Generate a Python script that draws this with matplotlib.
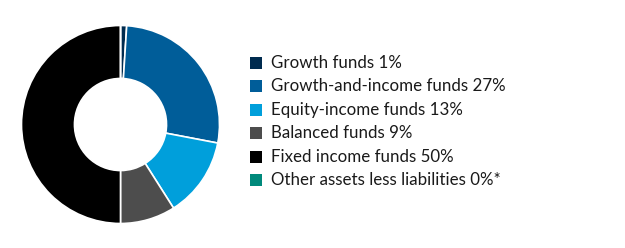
import matplotlib
matplotlib.use("Agg")
import matplotlib.pyplot as plt
from matplotlib.patches import Rectangle

# --- データ ---
labels = ["Growth funds 1%", "Growth-and-income funds 27%", "Equity-income funds 13%",
          "Balanced funds 9%", "Fixed income funds 50%", "Other assets less liabilities 0%*"]
values = [1, 27, 13, 9, 50, 0]
colors = ["#002b4f", "#005d99", "#009fdb", "#4d4d4d", "#000000", "#00897b"]

plt.rcParams['font.family'] = ['Lato', 'DejaVu Sans']

fig = plt.figure(figsize=(6.25, 2.48), dpi=100)

# donut
ax = fig.add_axes([(120.5 - 99) / 625, 1 - (124.5 + 99) / 248, 198 / 625, 198 / 248])
ax.pie(values, colors=colors, startangle=90, counterclock=False,
       wedgeprops=dict(width=0.535, edgecolor="white", linewidth=1.2))
ax.set_xlim(-1, 1)
ax.set_ylim(-1, 1)
ax.set_aspect("equal")
ax.axis("off")

# legend
lx = fig.add_axes([0, 0, 1, 1])
lx.set_xlim(0, 625)
lx.set_ylim(248, 0)
lx.axis("off")
y0, dy = 63, 23.4
for k, (lab, c) in enumerate(zip(labels, colors)):
    y = y0 + k * dy
    lx.add_patch(Rectangle((250, y - 6), 12, 12, facecolor=c, edgecolor="none"))
    lx.text(271, y, lab, va="center", ha="left", fontsize=12.2, color="#1a1a1a")

fig.savefig("out.png", dpi=100)
